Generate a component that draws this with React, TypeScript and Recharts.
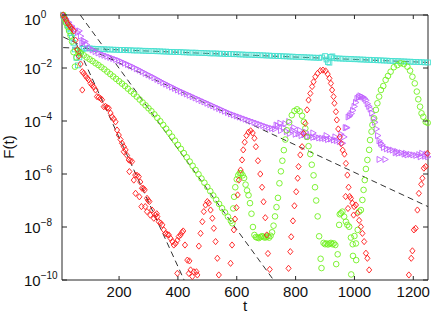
import React from 'react';
import { ComposedChart, Scatter, Line, XAxis, YAxis, ReferenceArea, Label } from 'recharts';

const W = 436;
const H = 316;
const PLOT_L = 62;
const PLOT_R = 428;
const PLOT_T = 15;
const PLOT_B = 280;
const FONT = "'Liberation Sans', Arial, Helvetica, sans-serif";
const AXIS = '#262626';
const RED = '#ff1a1a';
const GREEN = '#70f020';
const VIOLET = '#c060ff';
const CYAN = '#48e0d0';

const xTicks = [200, 400, 600, 800, 1000, 1200];
const yTicks = [1e-10, 1e-8, 1e-6, 1e-4, 1e-2, 1];

// [t, log10 F(t)]
const cyanPts = [
  [10,-0.02],[15,-0.12],[20,-0.25],[25,-0.38],[30,-0.52],[35,-0.68],[40,-0.85],[45,-1.05],[50,-1.3],[55,-1.62],[60,-1.9],[65,-1.6],[70,-1.38],[75,-1.28],
  [80,-1.27],[90,-1.26],[100,-1.26],[110,-1.27],[120,-1.28],[130,-1.28],[140,-1.29],[150,-1.29],[160,-1.3],[170,-1.3],[180,-1.31],[190,-1.31],[200,-1.32],[210,-1.32],[220,-1.32],[230,-1.33],[240,-1.33],[250,-1.34],[260,-1.34],[270,-1.34],[280,-1.35],[290,-1.35],[300,-1.36],[310,-1.36],[320,-1.36],[330,-1.37],[340,-1.37],[350,-1.38],[360,-1.38],[370,-1.39],[380,-1.39],[390,-1.4],[400,-1.4],[410,-1.4],[420,-1.41],[430,-1.41],[440,-1.42],[450,-1.42],[460,-1.42],[470,-1.43],[480,-1.43],[490,-1.44],[500,-1.44],[510,-1.45],[520,-1.45],[530,-1.45],[540,-1.46],[550,-1.46],[560,-1.47],[570,-1.47],[580,-1.47],[590,-1.48],[600,-1.48],[610,-1.49],[620,-1.49],[630,-1.5],[640,-1.5],[650,-1.5],[660,-1.51],[670,-1.51],[680,-1.52],[690,-1.52],[700,-1.53],[710,-1.53],[720,-1.54],[730,-1.54],[740,-1.55],[750,-1.55],[760,-1.56],[770,-1.56],[780,-1.57],[790,-1.57],[800,-1.58],[810,-1.58],[820,-1.59],[830,-1.59],[840,-1.6],[850,-1.6],[860,-1.61],[870,-1.61],[880,-1.62],[890,-1.6],[900,-1.55],[905,-1.68],[910,-1.78],[915,-1.8],[920,-1.58],[925,-1.56],[930,-1.63],[940,-1.64],[950,-1.64],[960,-1.65],[970,-1.65],[980,-1.66],[990,-1.66],[1000,-1.67],[1010,-1.67],[1020,-1.68],[1030,-1.68],[1040,-1.69],[1050,-1.69],[1060,-1.7],[1070,-1.7],[1080,-1.71],[1090,-1.71],[1100,-1.72],[1110,-1.72],[1120,-1.73],[1130,-1.73],[1140,-1.74],[1150,-1.74],[1160,-1.75],[1170,-1.75],[1180,-1.76],[1190,-1.76],[1200,-1.77],[1210,-1.77],[1220,-1.78],[1230,-1.78],[1240,-1.79],[1250,-1.79],
];

const violetPts = [
  [10,0],[20,-0.15],[30,-0.28],[40,-0.42],[50,-0.55],[60,-0.66],[65,-0.6],[70,-0.8],[75,-1.05],[80,-0.98],[85,-1.0],[90,-1.12],[100,-1.24],[110,-1.32],[120,-1.38],[130,-1.43],[140,-1.48],[150,-1.52],[160,-1.56],[170,-1.6],[180,-1.64],[190,-1.68],[200,-1.72],[210,-1.77],[220,-1.82],[230,-1.87],[240,-1.92],[250,-1.97],[260,-2.03],[270,-2.08],[280,-2.14],[290,-2.2],[300,-2.26],[310,-2.31],[320,-2.37],[330,-2.43],[340,-2.49],[350,-2.55],[360,-2.61],[370,-2.66],[380,-2.72],[390,-2.77],[400,-2.83],[410,-2.88],[420,-2.93],[430,-2.98],[440,-3.03],[450,-3.08],[460,-3.13],[470,-3.18],[480,-3.23],[490,-3.28],[500,-3.33],[510,-3.38],[520,-3.43],[530,-3.48],[540,-3.53],[550,-3.58],[560,-3.63],[570,-3.68],[580,-3.73],[590,-3.77],[600,-3.81],[610,-3.85],[620,-3.89],[630,-3.93],[640,-3.97],[650,-4.01],[660,-4.05],[670,-4.09],[680,-4.13],[690,-4.17],[700,-4.21],[710,-4.25],[720,-4.28],[730,-4.3],[735,-4.15],[740,-4.18],[748,-4.08],[750,-4.36],[760,-4.25],[765,-4.1],[770,-4.4],[778,-4.02],[780,-4.47],[790,-4.35],[795,-4.25],[800,-4.5],[810,-4.48],[815,-4.35],[820,-4.55],[830,-4.52],[835,-4.42],[840,-4.59],[850,-4.58],[860,-4.62],[860,-4.45],[870,-4.6],[880,-4.64],[890,-4.65],[900,-4.66],[905,-4.55],[910,-4.7],[920,-4.68],[930,-4.72],[935,-4.6],[940,-4.74],[950,-4.78],[955,-4.5],[960,-4.84],[965,-4.6],[970,-4.25],[975,-4.25],[980,-3.85],[985,-3.8],[990,-3.72],[995,-3.6],[1000,-3.45],[1005,-3.3],[1010,-3.15],[1015,-3.1],[1020,-3.05],[1025,-3.08],[1030,-3.1],[1035,-3.15],[1040,-3.22],[1045,-3.35],[1050,-3.45],[1055,-3.55],[1060,-3.7],[1065,-3.9],[1070,-4.05],[1075,-4.3],[1080,-4.55],[1085,-4.75],[1085,-5.45],[1090,-4.84],[1095,-4.9],[1100,-5.0],[1105,-5.45],[1110,-5.05],[1120,-5.08],[1130,-5.1],[1140,-5.2],[1145,-5.15],[1150,-5.22],[1160,-5.2],[1170,-5.25],[1175,-5.22],[1180,-5.28],[1190,-5.26],[1200,-5.28],[1210,-5.3],[1220,-5.27],[1225,-5.35],[1230,-5.22],[1240,-5.33],[1245,-5.25],[1250,-5.35],
];

const greenPts = [
  [10,0],[15,-0.15],[20,-0.3],[25,-0.45],[30,-0.6],[35,-0.78],[40,-1.0],[45,-1.4],[50,-1.95],[55,-1.6],[60,-1.35],[65,-1.4],[70,-1.44],[80,-1.52],[90,-1.6],[100,-1.67],[110,-1.74],[120,-1.82],[130,-1.89],[140,-1.97],[150,-2.05],[160,-2.14],[170,-2.23],[180,-2.32],[190,-2.41],[200,-2.5],[210,-2.59],[220,-2.68],[230,-2.78],[240,-2.88],[250,-2.98],[260,-3.08],[270,-3.19],[280,-3.3],[290,-3.41],[300,-3.52],[310,-3.63],[320,-3.75],[330,-3.88],[340,-4.01],[350,-4.15],[360,-4.29],[370,-4.44],[380,-4.59],[390,-4.74],[400,-4.9],[410,-5.05],[420,-5.21],[430,-5.37],[440,-5.53],[450,-5.69],[460,-5.85],[470,-6.01],[480,-6.17],[490,-6.33],[500,-6.49],[510,-6.65],[520,-6.81],[530,-6.97],[540,-7.13],[550,-7.29],[560,-7.45],[570,-7.61],[580,-7.77],
  [585,-7.86],[588,-7.3],[591,-6.86],[595,-6.5],[600,-6.2],[605,-6.05],[610,-5.97],[615,-5.97],[620,-6.05],[625,-6.15],[630,-6.4],[635,-6.62],[640,-6.8],[645,-7.1],[650,-7.5],[655,-8.0],[660,-8.3],[665,-8.38],[670,-8.4],[675,-8.42],[680,-8.38],[685,-8.35],[690,-8.36],[695,-8.4],[700,-8.38],[705,-8.35],[710,-8.4],[715,-8.33],[720,-8.2],[725,-7.95],[730,-7.6],[735,-7.25],[740,-6.9],[745,-6.35],[750,-5.9],[755,-5.5],[760,-5.1],[765,-4.7],[770,-4.35],[778,-4.05],[787,-3.78],[796,-3.62],[805,-3.56],[814,-3.63],[822,-3.8],[828,-4.03],[833,-4.28],[839,-4.6],[844,-4.95],[850,-5.25],[855,-5.65],[861,-6.05],[866,-6.5],[870,-7.0],[875,-7.6],[880,-8.35],[885,-9.2],[888,-9.55],[895,-8.6],[900,-8.65],[905,-8.62],[910,-8.66],[915,-8.63],[920,-8.6],[925,-8.65],[930,-8.62],[935,-8.68],[938,-9.4],[943,-9.03],[948,-7.92],[950,-7.52],[954,-7.48],[959,-7.42],[965,-7.61],[971,-7.8],[976,-7.92],[982,-7.99],[988,-8.4],[989,-9.79],[994,-8.65],[995,-9.09],[1000,-8.34],[1005,-8.62],[1006,-9.25],[1011,-8.11],[1016,-7.42],[1022,-7.36],[1027,-6.98],[1031,-6.6],[1035,-6.23],[1039,-5.81],[1044,-5.47],[1050,-5.09],[1053,-4.72],[1058,-4.4],[1061,-4.15],[1067,-3.9],[1073,-3.58],[1078,-3.33],[1084,-3.08],[1090,-2.83],[1098,-2.68],[1106,-2.45],[1114,-2.3],[1123,-2.14],[1134,-1.97],[1146,-1.89],[1157,-1.82],[1168,-1.85],[1180,-1.95],[1189,-2.1],[1197,-2.33],[1205,-2.58],[1212,-2.89],[1217,-3.18],[1223,-3.46],[1228,-3.71],[1234,-3.84],[1242,-4.03],[1249,-4.07],
];

const redPts = [
  [10,0],[15,-0.1],[20,-0.2],[25,-0.3],[30,-0.38],[35,-0.45],[40,-0.52],[46,-0.6],[52,-0.95],[58,-1.3],[63,-1.55],[69,-1.85],[75,-2.14],[75,-2.83],[80,-2.2],[86,-2.3],[92,-2.38],[97,-2.45],[103,-2.58],[108,-2.65],[114,-2.72],[120,-2.83],[125,-3.08],[131,-3.1],[137,-3.15],[142,-3.2],[148,-3.46],[154,-3.45],[160,-3.5],[165,-3.52],[171,-3.7],[176,-3.84],[182,-3.92],[188,-4.03],[193,-4.34],[199,-4.53],[205,-4.7],[210,-4.84],[216,-4.97],[222,-5.09],[216,-5.16],[227,-5.3],[233,-5.47],[238,-5.5],[244,-5.53],[235,-5.91],[250,-6.23],[255,-6.04],[261,-6.05],[267,-6.1],[272,-6.3],[278,-6.54],[283,-6.55],[287,-6.6],[256,-6.73],[269,-6.86],[295,-6.92],[299,-7.0],[303,-7.04],[276,-7.23],[289,-7.23],[295,-7.42],[306,-7.55],[312,-7.36],[318,-7.67],[323,-7.55],[328,-7.5],[330,-7.61],[335,-7.8],[341,-7.85],[347,-7.92],[352,-8.11],[358,-8.24],[364,-8.28],[369,-8.3],[375,-8.43],[381,-8.55],[386,-8.68],[392,-8.62],[398,-8.5],[403,-8.36],[409,-8.3],[414,-8.2],[418,-8.15],[424,-8.68],[432,-9.25],[398,-9.75],[437,-9.75],[439,-9.28],[443,-9.62],[449,-9.87],[454,-9.69],[463,-9.69],[466,-9.81],[471,-8.72],[477,-8.24],[483,-7.8],[488,-7.42],[494,-7.17],[500,-7.04],[505,-7.1],[511,-7.36],[517,-7.67],[522,-8.05],[528,-8.55],[534,-9.18],[539,-9.81],
  [579,-9.37],[584,-8.68],[590,-8.11],[594,-7.7],[599,-7.27],[603,-6.79],[607,-6.23],[613,-5.85],[618,-5.47],[622,-5.09],[627,-4.8],[633,-4.55],[640,-4.42],[647,-4.37],[654,-4.45],[660,-4.65],[665,-4.97],[672,-5.5],[680,-6.0],[686,-6.5],[691,-7.05],[697,-7.65],[702,-8.3],[706,-9.0],[712,-9.6],
  [776,-9.56],[782,-8.93],[785,-8.37],[791,-7.77],[796,-7.2],[802,-6.67],[807,-6.16],[810,-5.72],[816,-5.28],[822,-4.97],[827,-4.47],[833,-4.09],[839,-3.58],[844,-3.21],[850,-2.96],[856,-2.7],[861,-2.52],[867,-2.33],[875,-2.2],[884,-2.1],[893,-2.08],[902,-2.11],[909,-2.23],[915,-2.39],[920,-2.58],[924,-2.83],[929,-3.08],[932,-3.33],[937,-3.65],[940,-3.96],[945,-4.3],[950,-4.6],[955,-4.85],[960,-5.1],[966,-5.25],[970,-6.85],[971,-5.6],[976,-6.04],[978,-7.3],[980,-6.5],[984,-6.85],[988,-6.92],[993,-7.1],[997,-7.55],[999,-7.23],[1005,-7.17],[1010,-7.48],[1016,-7.75],[1022,-7.99],[1027,-8.24],[1033,-8.55],[1039,-8.99],[1044,-9.18],[1050,-9.62],
  [1185,-9.81],[1193,-9.18],[1197,-8.9],[1202,-8.11],[1208,-8.05],[1214,-7.36],[1219,-6.73],[1227,-6.39],[1231,-6.16],[1236,-5.78],[1242,-5.72],[1248,-5.22],
];

// dashed reference lines: [t, log10 F]
const redFit = [[10, 0], [421, -10]];
const greenFit = [[68, 0], [725, -10]];
const violetFit = [[10, -0.83], [1250, -7.23]];
const cyanFit = [[10, -1.23], [1250, -1.79]];

const toData = (pts: number[][]) => pts.map(([t, l]) => ({ t, f: Math.pow(10, l) }));

const Diamond = (p: any) => {
  const { cx, cy } = p;
  if (cx == null || cy == null) return <g />;
  return <path d={`M${cx},${cy - 3.1}L${cx + 2.6},${cy}L${cx},${cy + 3.1}L${cx - 2.6},${cy}Z`} fill="none" stroke={RED} strokeWidth={0.9} />;
};
const Circ = (p: any) => {
  const { cx, cy } = p;
  if (cx == null || cy == null) return <g />;
  return <circle cx={cx} cy={cy} r={2.8} fill="none" stroke={GREEN} strokeWidth={0.9} />;
};
const TriR = (p: any) => {
  const { cx, cy } = p;
  if (cx == null || cy == null) return <g />;
  return <path d={`M${cx - 2.4},${cy - 3}L${cx + 3},${cy}L${cx - 2.4},${cy + 3}Z`} fill="none" stroke={VIOLET} strokeWidth={0.9} />;
};
const Sq = (p: any) => {
  const { cx, cy } = p;
  if (cx == null || cy == null) return <g />;
  return <rect x={cx - 2.4} y={cy - 2.4} width={4.8} height={4.8} fill="none" stroke={CYAN} strokeWidth={0.9} />;
};

const XTick = (p: any) => {
  const { x, payload } = p;
  return (
    <g>
      <line x1={x} x2={x} y1={PLOT_B} y2={PLOT_B - 4} stroke={AXIS} />
      <line x1={x} x2={x} y1={PLOT_T} y2={PLOT_T + 4} stroke={AXIS} />
      <text x={x} y={PLOT_B + 17} textAnchor="middle" fontSize={15} fill="#111" fontFamily={FONT}>{payload.value}</text>
    </g>
  );
};

const YTick = (p: any) => {
  const { y, payload } = p;
  const e = Math.round(Math.log10(payload.value));
  const base = e === 0 ? y + 10 : y + 6;
  return (
    <g>
      <line x1={PLOT_L} x2={PLOT_L + 5} y1={y} y2={y} stroke={AXIS} />
      <line x1={PLOT_R - 5} x2={PLOT_R} y1={y} y2={y} stroke={AXIS} />
      <text x={24} y={base} fontSize={15} fill="#111" fontFamily={FONT}>
        10<tspan dy={-7.3} fontSize={10}>{e === 0 ? '0' : '\u2212' + Math.abs(e)}</tspan>
      </text>
    </g>
  );
};

const XTitle = () => (
  <text x={245} y={311} textAnchor="middle" fontSize={15} fill="#111" fontFamily={FONT}>t</text>
);
const YTitle = () => (
  <text x={14} y={147} transform="rotate(-90 14 147)" textAnchor="middle" fontSize={15} fill="#111" fontFamily={FONT}>F(t)</text>
);

export default function App() {
  return (
    <div style={{ position: 'absolute', left: 0, top: 0, width: W, height: H, background: '#fff' }}>
      <ComposedChart width={W} height={H} margin={{ top: PLOT_T, right: W - PLOT_R, bottom: 0, left: 0 }}>
        <XAxis
          dataKey="t"
          type="number"
          domain={[6, 1250]}
          ticks={xTicks}
          interval={0}
          height={H - PLOT_B}
          axisLine={false}
          tickLine={false}
          tickSize={0}
          tickMargin={0}
          tick={<XTick />}
        >
          <Label content={<XTitle />} />
        </XAxis>
        <YAxis
          dataKey="f"
          type="number"
          scale="log"
          domain={[1e-10, 1]}
          ticks={yTicks}
          interval={0}
          width={PLOT_L}
          axisLine={false}
          tickLine={false}
          tickSize={0}
          tickMargin={0}
          tick={<YTick />}
        >
          <Label content={<YTitle />} />
        </YAxis>
        <ReferenceArea x1={6} x2={1250} y1={1e-10} y2={1} fill="none" stroke={AXIS} strokeWidth={1} strokeOpacity={1} />
        <Scatter data={toData(cyanPts)} dataKey="f" shape={<Sq />} isAnimationActive={false} />
        <Scatter data={toData(violetPts)} dataKey="f" shape={<TriR />} isAnimationActive={false} />
        <Scatter data={toData(greenPts)} dataKey="f" shape={<Circ />} isAnimationActive={false} />
        <Scatter data={toData(redPts)} dataKey="f" shape={<Diamond />} isAnimationActive={false} />
        <Line data={toData(redFit)} dataKey="f" type="linear" stroke="#333" strokeWidth={1} strokeDasharray="6 4" dot={false} activeDot={false} isAnimationActive={false} />
        <Line data={toData(greenFit)} dataKey="f" type="linear" stroke="#333" strokeWidth={1} strokeDasharray="6 4" dot={false} activeDot={false} isAnimationActive={false} />
        <Line data={toData(violetFit)} dataKey="f" type="linear" stroke="#333" strokeWidth={1} strokeDasharray="6 4" dot={false} activeDot={false} isAnimationActive={false} />
        <Line data={toData(cyanFit)} dataKey="f" type="linear" stroke="#333" strokeWidth={1} strokeDasharray="6 4" dot={false} activeDot={false} isAnimationActive={false} />
      </ComposedChart>
    </div>
  );
}
